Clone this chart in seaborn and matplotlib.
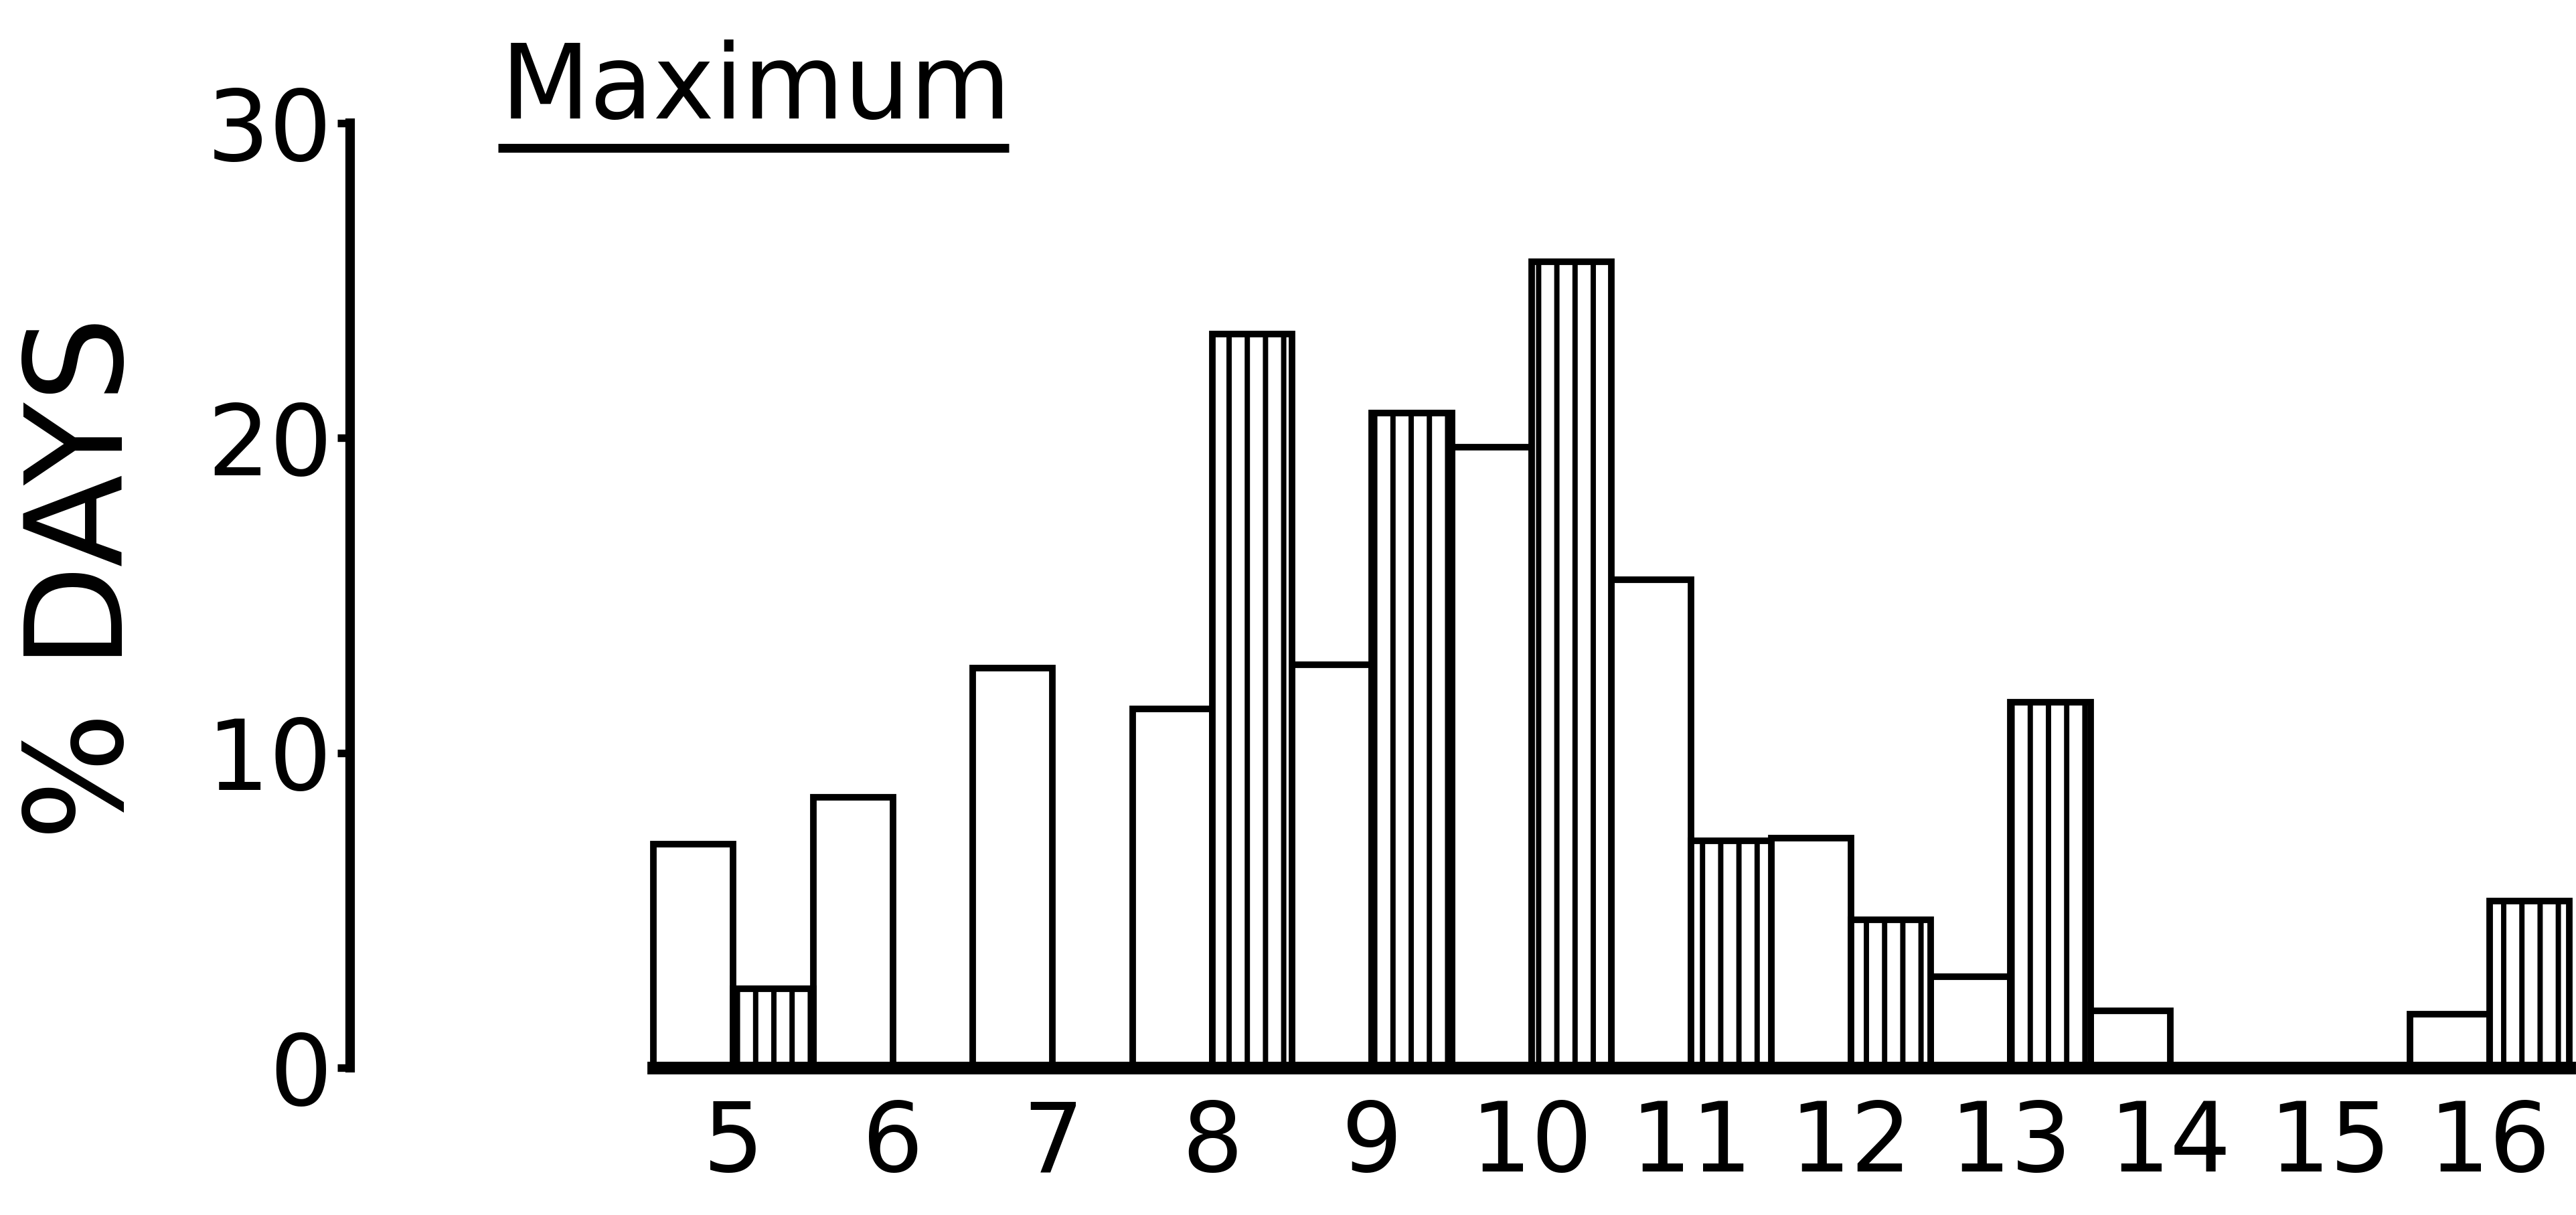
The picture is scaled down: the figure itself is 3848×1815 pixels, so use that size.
import matplotlib
matplotlib.use("Agg")
import matplotlib.pyplot as plt
import matplotlib.hatch as mhatch
import pandas as pd
import seaborn as sns
from matplotlib.lines import Line2D

# Daily maximum: percentage of days per class, two series per class
temps = [5, 6, 7, 8, 9, 10, 11, 12, 13, 14, 15, 16]
open_pct = [7.1, 8.6, 12.7, 11.4, 12.8, 19.7, 15.5, 7.3, 2.9, 1.8, 0.0, 1.7]
hatched_pct = [2.5, 0.0, 0.0, 23.3, 20.8, 25.6, 7.2, 4.7, 11.6, 0.0, 0.0, 5.3]
series = ["open", "hatched"]
yticks = [0, 10, 20, 30]
title = "Maximum"
ylabel = "% DAYS"

DPI = 136
W, H = 3848, 1815


class WideRuledHatch(mhatch.VerticalHatch):
    """Vertical ruling, five lines per hatch unit."""

    def __init__(self, hatch, density):
        self.num_lines = 5 * (hatch.count("|") + hatch.count("+"))
        self.num_vertices = self.num_lines * 2


mhatch._hatch_types[mhatch._hatch_types.index(mhatch.VerticalHatch)] = WideRuledHatch

sns.set_theme(style="ticks")
plt.rcParams["font.family"] = ["DejaVu Sans"]
plt.rcParams["hatch.linewidth"] = 4.2
plt.rcParams["hatch.color"] = "black"
plt.rcParams["text.color"] = "black"

df = pd.DataFrame({
    "temp": temps * 2,
    "pct": open_pct + hatched_pct,
    "kind": [series[0]] * len(temps) + [series[1]] * len(temps),
})

fig = plt.figure(figsize=(W / DPI, H / DPI), dpi=DPI, facecolor="white")
ax = fig.add_axes([0.1359, 0.1212, 0.8628, 0.7774])

sns.barplot(data=df, x="temp", y="pct", hue="kind", order=temps,
            hue_order=series, palette=["white", "white"], saturation=1,
            width=1.0, gap=0, dodge=True, errorbar=None, legend=False,
            edgecolor="black", linewidth=5.2, ax=ax)

for bar in ax.containers[1]:
    bar.set_hatch("|")
for bar in ax.patches:
    bar.set_clip_on(False)

ax.set_xlim(-2.40, 11.52)
ax.set_ylim(0, 30)
ax.set_yticks(yticks)
ax.set_xlabel("")
ax.set_ylabel("")

for side in ("top", "right"):
    ax.spines[side].set_visible(False)
ax.spines["left"].set_bounds(0, 30)
ax.spines["bottom"].set_bounds(-0.5, 11.5)
ax.spines["left"].set_linewidth(7.5)
ax.spines["bottom"].set_linewidth(10)
for side in ("left", "bottom"):
    ax.spines[side].set_color("black")
    ax.spines[side].set_capstyle("projecting")
    ax.spines[side].set_zorder(3)

ax.tick_params(axis="y", direction="out", length=10, width=6, pad=4,
               labelsize=78, colors="black")
ax.tick_params(axis="x", length=0, pad=24, labelsize=76, colors="black")

fig.text(748 / W, 1 - 177 / H, title, fontsize=82, ha="left", va="baseline",
         color="black")
fig.add_artist(Line2D([744 / W, 1507 / W], [1 - 221 / H] * 2,
                      transform=fig.transFigure, color="black",
                      linewidth=7, solid_capstyle="butt"))
fig.text(128 / W, 1 - 864 / H, ylabel, rotation=90, fontsize=107,
         ha="center", va="center", color="black")

fig.savefig("out.png", dpi=DPI, facecolor="white")
